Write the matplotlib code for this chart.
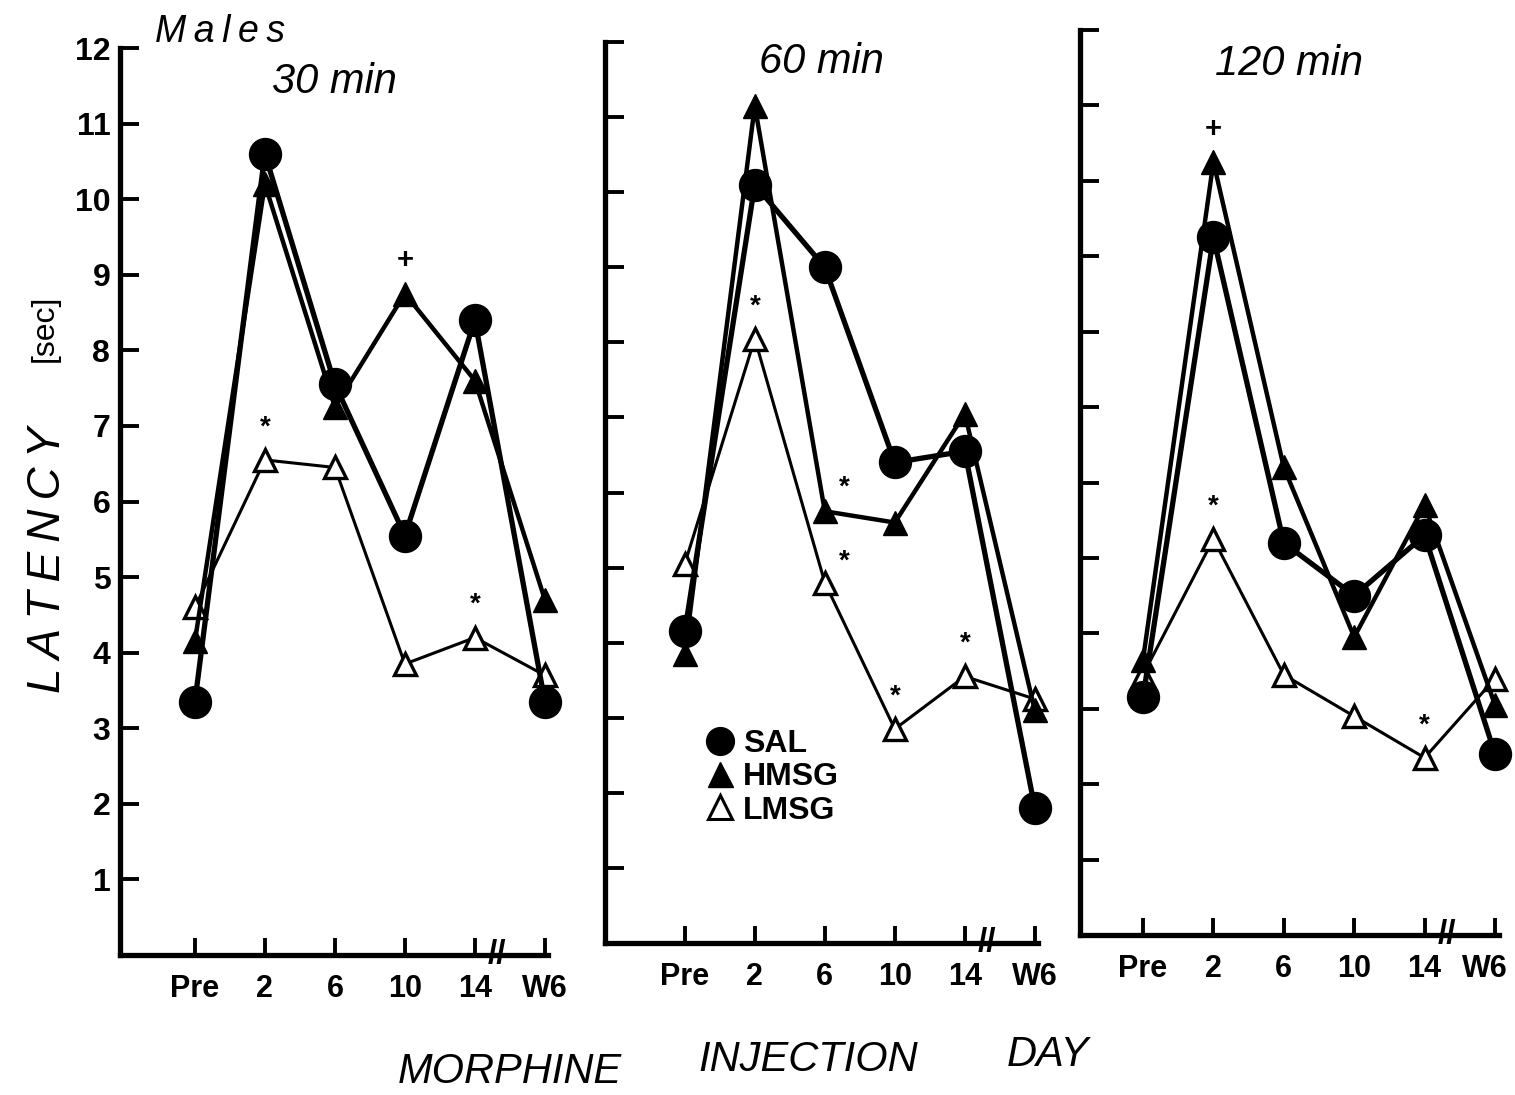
import matplotlib
matplotlib.use("Agg")
import matplotlib.pyplot as plt
import matplotlib.transforms as mtransforms
from matplotlib.lines import Line2D

# ── Data (latency in sec) ─────────────────────────────────────────────────────
days = ["Pre", "2", "6", "10", "14", "W6"]
panel_titles = ["30 min", "60 min", "120 min"]

sal_30  = [3.35, 10.6, 7.55, 5.55, 8.4, 3.35]
hmsg_30 = [4.15, 10.2, 7.25, 8.75, 7.6, 4.7]
lmsg_30 = [4.6, 6.55, 6.45, 3.85, 4.2, 3.7]

sal_60  = [4.15, 10.1, 9.0, 6.4, 6.55, 1.8]
hmsg_60 = [3.85, 11.15, 5.75, 5.6, 7.05, 3.1]
lmsg_60 = [5.05, 8.05, 4.8, 2.85, 3.55, 3.25]

sal_120  = [3.15, 9.25, 5.2, 4.5, 5.3, 2.4]
hmsg_120 = [3.65, 10.25, 6.2, 3.95, 5.7, 3.05]
lmsg_120 = [3.45, 5.25, 3.45, 2.9, 2.35, 3.4]

# significance marks: (panel, day index, group, symbol)
sig_marks = [
    (0, 1, "LMSG", "*"), (0, 3, "HMSG", "+"), (0, 4, "LMSG", "*"),
    (1, 1, "LMSG", "*"), (1, 2, "HMSG", "*"), (1, 2, "LMSG", "*"),
    (1, 3, "LMSG", "*"), (1, 4, "LMSG", "*"),
    (2, 1, "HMSG", "+"), (2, 1, "LMSG", "*"), (2, 4, "LMSG", "*"),
]

panels = [
    {"SAL": sal_30, "HMSG": hmsg_30, "LMSG": lmsg_30},
    {"SAL": sal_60, "HMSG": hmsg_60, "LMSG": lmsg_60},
    {"SAL": sal_120, "HMSG": hmsg_120, "LMSG": lmsg_120},
]

# ── Styling ───────────────────────────────────────────────────────────────────
plt.rcParams["font.family"] = ["Liberation Sans", "DejaVu Sans"]

W, H = 1515, 1095
STYLE = {
    "SAL":  dict(marker="o", ms=23, mfc="black", mec="black", lw=3.8, zorder=4),
    "HMSG": dict(marker="^", ms=17, mfc="black", mec="black", lw=3.2, zorder=3),
    "LMSG": dict(marker="^", ms=16, mfc="white", mec="black", mew=2.4, lw=2.2, zorder=2),
}
# axes boxes in pixels: left, bottom (y=0), top (y=12), xlim, px per day step
boxes = [
    (120, 955, 48, (-1.07, 5.05), 70.0),
    (605, 943, 42, (-1.14, 5.05), 70.0),
    (1080, 935, 30, (-0.895, 5.05), 70.4),
]
title_y = [0.985, 1.0, 0.985]
# offsets (points) for significance marks
sig_offset = {
    (1, 2, "HMSG"): (14, 8),
    (1, 2, "LMSG"): (14, 6),
}

fig = plt.figure(figsize=(W / 100, H / 100), dpi=100)
axes = []
for i, (left, bot, top, xlim, step) in enumerate(boxes):
    width = (xlim[1] - xlim[0]) * step
    ax = fig.add_axes([left / W, 1 - bot / H, width / W, (bot - top) / H])
    axes.append(ax)
    x = list(range(len(days)))
    for name in ["LMSG", "HMSG", "SAL"]:
        ax.plot(x, panels[i][name], color="black", clip_on=False, **STYLE[name])

    ax.set_xlim(*xlim)
    ax.set_ylim(0, 12)
    for s in ["top", "right"]:
        ax.spines[s].set_visible(False)
    for s in ["left", "bottom"]:
        ax.spines[s].set_linewidth(3.8)
    ax.set_xticks(x)
    ax.set_xticklabels(days, fontsize=22, fontweight="bold")
    ax.set_yticks(range(1, 13))
    if i == 0:
        ax.set_yticklabels([str(v) for v in range(1, 13)], fontsize=23,
                           fontweight="bold")
    else:
        ax.set_yticklabels([])
    ax.tick_params(axis="x", direction="in", length=12, width=2.8, pad=14)
    ax.tick_params(axis="y", direction="in", length=14, width=2.8, pad=7)
    ax.patch.set_alpha(0)

    # axis break between 14 and W6
    ax.text(4.32, 0, "//", fontsize=24, fontweight="bold", ha="center",
            va="center", clip_on=False)

    ax.text(0.5, title_y[i], panel_titles[i], transform=ax.transAxes,
            fontsize=30, fontstyle="italic", ha="center", va="top")

# last panel: W6 label sits a little left of its tick, as in the original
w6 = axes[2].get_xticklabels()[-1]
w6.set_transform(w6.get_transform()
                 + mtransforms.ScaledTranslation(-10 / 100, 0, fig.dpi_scale_trans))

for p, d, grp, sym in sig_marks:
    ax = axes[p]
    dx, dy = sig_offset.get((p, d, grp), (0, 14))
    ax.annotate(sym, (d, panels[p][grp][d]), xytext=(dx, dy),
                textcoords="offset points", ha="center", va="bottom",
                fontsize=20 if sym == "*" else 21, fontweight="bold", zorder=6)

# legend inside the 60 min panel
handles = [
    Line2D([], [], ls="none", marker="o", ms=20, mfc="black", mec="black"),
    Line2D([], [], ls="none", marker="^", ms=18, mfc="black", mec="black"),
    Line2D([], [], ls="none", marker="^", ms=17, mfc="white", mec="black", mew=2.2),
]
axes[1].legend(handles, ["SAL", "HMSG", "LMSG"], loc="upper left",
               bbox_to_anchor=(0.2, 0.255), frameon=False,
               prop={"size": 23, "weight": "bold"},
               handlelength=0.8, handletextpad=0.3, labelspacing=0.1,
               borderpad=0)

thin = "\u2009"
fig.text(155 / W, 1 - 32 / H, thin.join("Males"), fontsize=27,
         fontstyle="italic", ha="left", va="center")
fig.text(48 / W, 1 - 560 / H, thin.join("LATENCY"), fontsize=33,
         fontstyle="italic", rotation=90, ha="center", va="center")
fig.text(45 / W, 1 - 328 / H, "[sec]", fontsize=23, rotation=90,
         ha="center", va="center")
fig.text(510 / W, 1 - 1072 / H, "MORPHINE", fontsize=30, fontstyle="italic",
         ha="center", va="center")
fig.text(808 / W, 1 - 1060 / H, "INJECTION", fontsize=30, fontstyle="italic",
         ha="center", va="center")
fig.text(1048 / W, 1 - 1055 / H, "DAY", fontsize=30, fontstyle="italic",
         ha="center", va="center")

fig.savefig("out.png", dpi=100, facecolor="white")
